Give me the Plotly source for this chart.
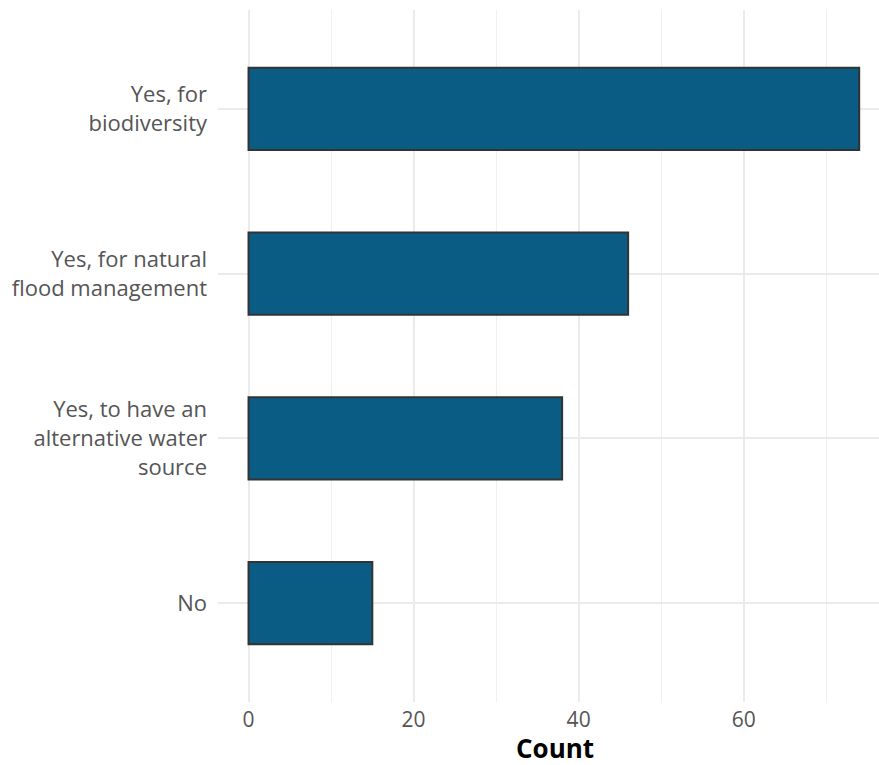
import plotly.graph_objects as go

categories = ["No", "Yes, to have an<br>alternative water<br>source", "Yes, for natural<br>flood management", "Yes, for<br>biodiversity"]
counts = [15, 38, 46, 74]
x_ticks = [0, 20, 40, 60]

W, H = 879, 765
ml, mr, mt, mb = 218, 0, 10, 63

fig = go.Figure()
fig.add_trace(go.Bar(
    y=categories, x=counts, orientation="h", width=0.5,
    marker=dict(color="#0a5c84", line=dict(color="#333333", width=2)),
))

fig.update_layout(
    width=W, height=H,
    margin=dict(l=ml, r=mr, t=mt, b=mb, pad=0),
    plot_bgcolor="white", paper_bgcolor="white",
    font=dict(family="Open Sans", size=22, color="#4d4d4d"),
    showlegend=False,
    bargap=0.5,
)
fig.update_xaxes(
    range=[-3.7, 76.4], tickvals=x_ticks, ticktext=[str(v) for v in x_ticks],
    showgrid=True, gridcolor="#ebebeb", gridwidth=1.8,
    minor=dict(tickvals=[10, 30, 50, 70], showgrid=True, gridcolor="#f0f0f0", gridwidth=1),
    zeroline=False, showline=False, ticks="", ticklabelstandoff=3,
    tickfont=dict(size=21, color="#555555"),
)
fig.update_yaxes(
    type="category", categoryorder="array", categoryarray=categories,
    range=[-0.6, 3.6],
    showgrid=True, gridcolor="#ebebeb", gridwidth=1.8,
    zeroline=False, showline=False, ticks="", ticklabelstandoff=10,
    tickfont=dict(size=22, color="#555555"),
)
fig.add_annotation(
    text="<b>Count</b>", xref="paper", yref="paper",
    x=(555 - ml) / (W - ml - mr), y=-(748 - (H - mb)) / (H - mt - mb),
    xanchor="center", yanchor="middle", showarrow=False,
    font=dict(family="Open Sans", size=26, color="black"),
)
fig.write_html("out.html", config={"displayModeBar": False},
               post_script="document.body.style.margin='0';document.body.style.padding='0';")
